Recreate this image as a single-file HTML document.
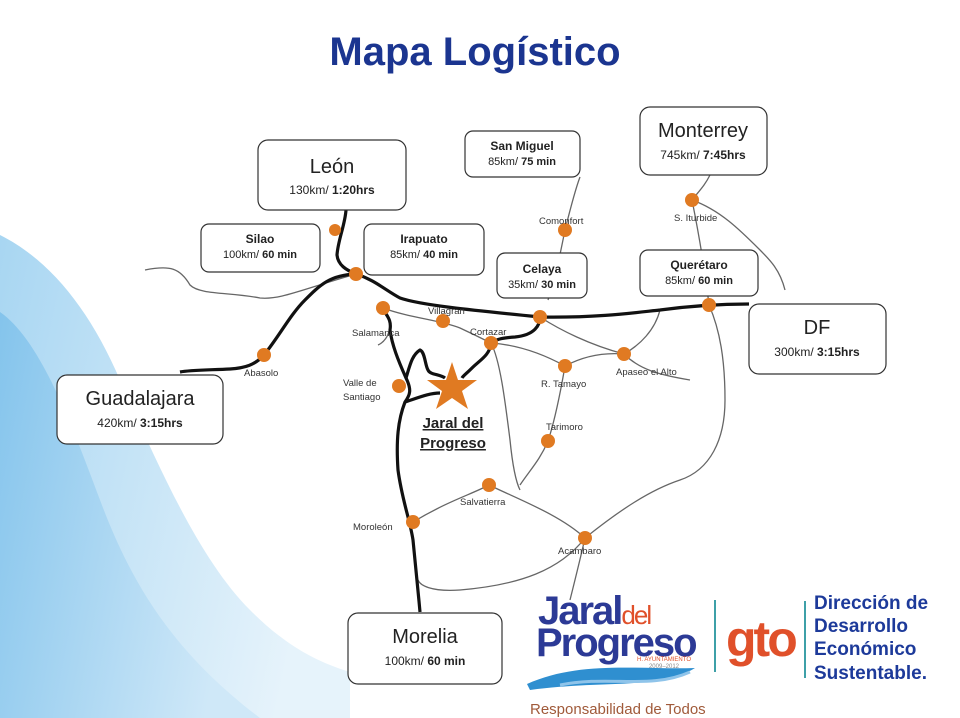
<!DOCTYPE html>
<html><head><meta charset="utf-8"><style>
html,body{margin:0;padding:0;width:960px;height:718px;overflow:hidden;background:#fff}
svg text{font-family:"Liberation Sans",sans-serif}
</style></head><body>
<svg width="960" height="718" viewBox="0 0 960 718" xmlns="http://www.w3.org/2000/svg">
<defs>
<linearGradient id="sw" x1="0" y1="0" x2="1" y2="0.3">
<stop offset="0" stop-color="#84c4ec"/><stop offset="1" stop-color="#cfe8f8"/>
</linearGradient>
<linearGradient id="sw2" x1="0" y1="0" x2="1" y2="0.3">
<stop offset="0" stop-color="#a8d6f2"/><stop offset="1" stop-color="#e6f3fb"/>
</linearGradient>
</defs>
<path d="M0,235 C50,260 90,310 120,380 C160,470 200,560 250,610 C280,640 310,660 350,672 L350,718 L0,718 Z" fill="url(#sw2)"/>
<path d="M0,312 C40,340 70,420 100,500 C130,580 170,650 260,718 L0,718 Z" fill="url(#sw)"/>

<text x="475" y="65" text-anchor="middle" font-size="40" font-weight="bold" fill="#1b3590">Mapa Logístico</text>

<g fill="none" stroke="#666" stroke-width="1.3">
<path d="M145,270 C170,265 180,268 190,285 C200,295 230,292 260,298 C280,300 300,290 356,274"/>
<path d="M383,308 C410,318 440,320 460,328 C475,335 485,340 491,343"/>
<path d="M491,343 C500,360 505,400 510,440 C512,460 515,480 520,490"/>
<path d="M491,343 C520,345 545,355 565,366 C580,358 600,352 624,354 C640,345 655,330 660,310"/>
<path d="M565,366 C560,395 555,420 548,441 C540,460 530,470 520,485"/>
<path d="M540,317 C560,330 590,345 624,354"/>
<path d="M565,230 C560,255 555,280 548,300"/>
<path d="M565,230 C570,210 575,190 580,177"/>
<path d="M692,200 C700,190 705,185 710,175"/>
<path d="M692,200 C700,240 705,270 709,305"/>
<path d="M692,200 C720,210 740,230 760,250 C770,260 780,270 785,290"/>
<path d="M709,305 C720,330 725,360 725,400 C725,440 710,470 680,480 C650,490 620,510 585,538"/>
<path d="M489,485 C520,500 560,515 585,538"/>
<path d="M585,538 C580,560 575,580 570,600"/>
<path d="M585,538 C560,570 520,585 460,590 C430,592 420,585 418,580"/>
<path d="M624,354 C640,370 660,375 690,380"/>
<path d="M413,522 C450,500 470,495 489,485"/>
<path d="M383,308 C395,320 390,340 378,345"/>
</g>
<g fill="none" stroke="#111" stroke-width="3.2" stroke-linejoin="round">
<path d="M346,210 C345,225 338,240 337,255 C338,265 346,270 356,274"/>
<path d="M356,274 C375,280 385,290 400,298 C420,305 470,310 540,317 C600,318 640,312 660,310 C690,306 720,304 749,304"/>
<path d="M356,274 C330,275 320,285 305,300 C290,315 280,335 264,355 C255,365 245,368 230,369 C210,370 190,370 180,372"/>
<path d="M383,308 C385,315 392,318 390,330 C392,345 398,360 406,378 C412,390 410,395 405,402 C398,420 396,440 398,470 C402,500 410,520 413,540 C416,570 418,590 420,612"/>
<path d="M405,402 C420,397 430,393 440,393"/>
<path d="M491,343 C490,355 480,360 472,368 C466,374 463,376 462,378"/>
<path d="M540,317 C540,325 535,335 515,337 C500,338 495,340 491,343"/>
<path d="M406,378 C410,365 412,355 420,350 C425,352 425,365 428,370 C430,375 440,374 445,378"/>
</g>

<g fill="#fff" stroke="#333" stroke-width="1.2">
<rect x="258" y="140" width="148" height="70" rx="10"/>
<rect x="201" y="224" width="119" height="48" rx="8"/>
<rect x="364" y="224" width="120" height="51" rx="8"/>
<rect x="465" y="131" width="115" height="46" rx="8"/>
<rect x="497" y="253" width="90" height="45" rx="8"/>
<rect x="640" y="107" width="127" height="68" rx="10"/>
<rect x="640" y="250" width="118" height="46" rx="8"/>
<rect x="749" y="304" width="137" height="70" rx="10"/>
<rect x="57" y="375" width="166" height="69" rx="10"/>
<rect x="348" y="613" width="154" height="71" rx="10"/>
</g>
<g fill="#222" text-anchor="middle">
<text x="332" y="173" font-size="20">León</text>
<text x="332" y="194" font-size="12">130km/ <tspan font-weight="bold">1:20hrs</tspan></text>
<text x="260" y="243" font-size="12" font-weight="bold">Silao</text>
<text x="260" y="258" font-size="11">100km/ <tspan font-weight="bold">60 min</tspan></text>
<text x="424" y="243" font-size="12" font-weight="bold">Irapuato</text>
<text x="424" y="258" font-size="11">85km/ <tspan font-weight="bold">40 min</tspan></text>
<text x="522" y="150" font-size="12" font-weight="bold">San Miguel</text>
<text x="522" y="165" font-size="11">85km/ <tspan font-weight="bold">75 min</tspan></text>
<text x="542" y="273" font-size="12" font-weight="bold">Celaya</text>
<text x="542" y="288" font-size="11">35km/ <tspan font-weight="bold">30 min</tspan></text>
<text x="703" y="137" font-size="20">Monterrey</text>
<text x="703" y="159" font-size="12">745km/ <tspan font-weight="bold">7:45hrs</tspan></text>
<text x="699" y="269" font-size="12" font-weight="bold">Querétaro</text>
<text x="699" y="284" font-size="11">85km/ <tspan font-weight="bold">60 min</tspan></text>
<text x="817" y="334" font-size="20">DF</text>
<text x="817" y="356" font-size="12">300km/ <tspan font-weight="bold">3:15hrs</tspan></text>
<text x="140" y="405" font-size="20">Guadalajara</text>
<text x="140" y="427" font-size="12">420km/ <tspan font-weight="bold">3:15hrs</tspan></text>
<text x="425" y="643" font-size="20">Morelia</text>
<text x="425" y="665" font-size="12">100km/ <tspan font-weight="bold">60 min</tspan></text>
</g>

<g fill="#e07a22">
<circle cx="335" cy="230" r="6"/><circle cx="356" cy="274" r="7"/><circle cx="383" cy="308" r="7"/>
<circle cx="443" cy="321" r="7"/><circle cx="491" cy="343" r="7"/><circle cx="540" cy="317" r="7"/>
<circle cx="565" cy="230" r="7"/><circle cx="692" cy="200" r="7"/><circle cx="709" cy="305" r="7"/>
<circle cx="624" cy="354" r="7"/><circle cx="565" cy="366" r="7"/><circle cx="548" cy="441" r="7"/>
<circle cx="489" cy="485" r="7"/><circle cx="585" cy="538" r="7"/><circle cx="413" cy="522" r="7"/>
<circle cx="399" cy="386" r="7"/><circle cx="264" cy="355" r="7"/>
<polygon points="452,362 458,380 477,380 462,391 468,409 452,398 436,409 442,391 427,380 446,380" fill="#e07a22"/>
</g>
<g fill="#333" font-size="9.5">
<text x="539" y="224">Comonfort</text>
<text x="674" y="221">S. Iturbide</text>
<text x="428" y="314">Villagran</text>
<text x="352" y="336">Salamanca</text>
<text x="470" y="335">Cortazar</text>
<text x="244" y="376">Abasolo</text>
<text x="343" y="386">Valle de</text>
<text x="343" y="400">Santiago</text>
<text x="541" y="387">R. Tamayo</text>
<text x="616" y="375">Apaseo el Alto</text>
<text x="546" y="430">Tarimoro</text>
<text x="460" y="505">Salvatierra</text>
<text x="558" y="554">Acambaro</text>
<text x="353" y="530">Moroleón</text>
</g>
<text x="453" y="428" text-anchor="middle" font-size="15" font-weight="bold" fill="#222" text-decoration="underline">Jaral del</text>
<text x="453" y="448" text-anchor="middle" font-size="15" font-weight="bold" fill="#222" text-decoration="underline">Progreso</text>

<text x="538" y="624" font-size="40" font-weight="bold" fill="#2c3a96" letter-spacing="-2">Jaral<tspan fill="#e0502a" font-size="26" font-weight="normal">del</tspan></text>
<text x="536" y="656" font-size="40" font-weight="bold" fill="#2c3a96" letter-spacing="-2">Progreso</text>
<text x="664" y="661" font-size="6" fill="#e0502a" text-anchor="middle">H. AYUNTAMIENTO</text>
<text x="664" y="668" font-size="6" fill="#888" text-anchor="middle">2009–2012</text>
<path d="M527,684 C580,660 640,670 695,668 C660,690 600,680 530,690 Z" fill="#2f8fd0"/>
<path d="M560,685 C610,675 650,690 690,672" stroke="#8fc4ea" stroke-width="3" fill="none"/>
<text x="530" y="714" font-size="15" fill="#a05a3a">Responsabilidad de Todos</text>
<line x1="715" y1="600" x2="715" y2="672" stroke="#3ea0a8" stroke-width="2"/>
<text x="726" y="656" font-size="50" font-weight="bold" fill="#e0502a" letter-spacing="-3">gto</text>
<line x1="805" y1="601" x2="805" y2="678" stroke="#3ea0a8" stroke-width="2"/>
<g font-size="19" font-weight="bold" fill="#1d3a9a">
<text x="814" y="609">Dirección de</text>
<text x="814" y="632">Desarrollo</text>
<text x="814" y="655">Económico</text>
<text x="814" y="679">Sustentable.</text>
</g>
</svg>
</body></html>
